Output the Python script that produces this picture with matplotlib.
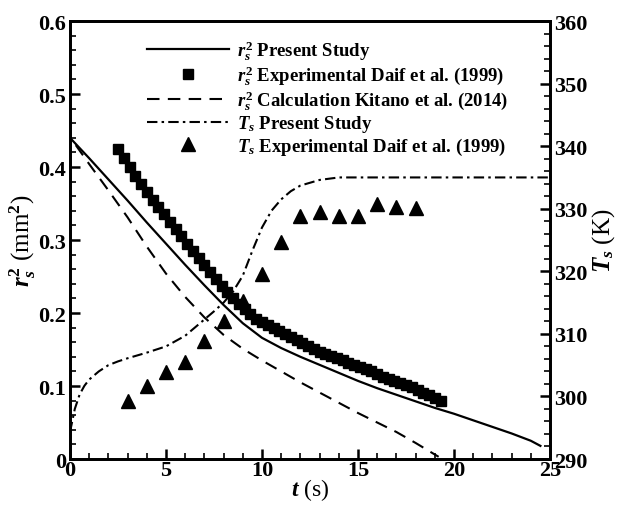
import matplotlib
matplotlib.use('Agg')
import matplotlib.pyplot as plt
from matplotlib.ticker import MultipleLocator

plt.rcParams['font.family'] = 'Liberation Serif'
plt.rcParams['font.weight'] = 'bold'
plt.rcParams['mathtext.fontset'] = 'custom'
plt.rcParams['mathtext.it'] = 'Liberation Serif:italic:bold'
plt.rcParams['mathtext.rm'] = 'Liberation Serif:bold'
plt.rcParams['mathtext.bf'] = 'Liberation Serif:bold'

# r_s^2 present study (solid)
t_present = [0, 1, 2, 3, 4, 5, 6, 7, 8, 9, 10, 11, 12, 13, 14, 15, 16, 17,
             18, 19, 20, 21, 22, 23, 24, 24.5]
r2_present = [0.44, 0.412, 0.383, 0.354, 0.324, 0.295, 0.266, 0.238, 0.211,
              0.186, 0.166, 0.152, 0.14, 0.129, 0.118, 0.107, 0.097, 0.088,
              0.079, 0.07, 0.062, 0.053, 0.044, 0.035, 0.025, 0.018]

# r_s^2 Kitano et al. (dashed)
t_kitano = [0.3, 1, 2, 3, 4, 5, 6, 7, 8, 9, 10, 11, 12, 13, 14, 15, 16, 17,
            18, 19.2]
r2_kitano = [0.43, 0.404, 0.368, 0.331, 0.291, 0.254, 0.222, 0.194, 0.17,
             0.151, 0.135, 0.12, 0.105, 0.091, 0.077, 0.063, 0.05, 0.037,
             0.022, 0.003]

# r_s^2 experiment Daif et al. (squares)
t_exp_r = [2.5, 2.8, 3.1, 3.4, 3.7, 4.0, 4.3, 4.6, 4.9, 5.2, 5.5, 5.8, 6.1,
           6.4, 6.7, 7.0, 7.3, 7.6, 7.9, 8.2, 8.5, 8.8, 9.1, 9.4, 9.7, 10.0,
           10.3, 10.6, 10.9, 11.2, 11.5, 11.8, 12.1, 12.4, 12.7, 13.0, 13.3,
           13.6, 13.9, 14.2, 14.5, 14.8, 15.1, 15.4, 15.7, 16.0, 16.3, 16.6,
           16.9, 17.2, 17.5, 17.8, 18.1, 18.4, 18.7, 19.0, 19.3]
r2_exp = [0.425, 0.412, 0.4, 0.388, 0.377, 0.366, 0.355, 0.345, 0.335, 0.325,
          0.315, 0.305, 0.295, 0.285, 0.276, 0.266, 0.256, 0.246, 0.237,
          0.229, 0.221, 0.213, 0.205, 0.198, 0.192, 0.187, 0.183, 0.179,
          0.175, 0.171, 0.167, 0.163, 0.159, 0.155, 0.151, 0.147, 0.144,
          0.141, 0.138, 0.135, 0.132, 0.129, 0.126, 0.123, 0.12, 0.117,
          0.113, 0.11, 0.107, 0.104, 0.101, 0.098, 0.094, 0.091, 0.087,
          0.083, 0.079]

# T_s present study (dash-dot)
t_temp = [0, 0.25, 0.5, 0.75, 1, 1.5, 2, 2.5, 3, 4, 5, 6, 6.5, 7, 7.5, 8,
          8.5, 9, 9.5, 10, 10.5, 11, 11.5, 12, 13, 14, 25]
T_present = [294.3, 298, 300.3, 301.7, 302.7, 304, 305, 305.6, 306.1, 307,
             308, 309.7, 311, 312.3, 313.6, 315, 316.8, 319.3, 323.3, 327,
             329.7, 331.5, 332.8, 333.7, 334.6, 335, 335]

# T_s experiment Daif et al. (triangles)
t_exp_T = [3, 4, 5, 6, 7, 8, 9, 10, 11, 12, 13, 14, 15, 16, 17, 18]
T_exp = [299.2, 301.6, 303.9, 305.5, 308.9, 312, 315.2, 319.6, 324.7, 328.8,
         329.5, 328.9, 328.9, 330.7, 330.3, 330.1]

fig = plt.figure(figsize=(6.2, 5.06), dpi=100)
ax = fig.add_axes([0.1129, 0.0909, 0.7742, 0.8656])
ax2 = ax.twinx()

l1, = ax.plot(t_present, r2_present, 'k-', lw=1.6)
l2, = ax.plot(t_exp_r, r2_exp, 'ks', ms=7, ls='none')
l3, = ax.plot(t_kitano, r2_kitano, 'k', lw=1.5, ls=(0, (6, 4)))
l4, = ax2.plot(t_temp, T_present, 'k', lw=1.5, ls=(0, (5, 2, 1.2, 2)))
l5, = ax2.plot(t_exp_T, T_exp, 'k^', ms=10, ls='none')

ax.set_xlim(0, 25)
ax.set_ylim(0, 0.6)
ax2.set_ylim(290, 360)

fs = 16
ax.xaxis.set_major_locator(MultipleLocator(5))
ax.xaxis.set_minor_locator(MultipleLocator(1))
ax.yaxis.set_major_locator(MultipleLocator(0.1))
ax.yaxis.set_minor_locator(MultipleLocator(0.02))
ax2.yaxis.set_major_locator(MultipleLocator(10))
ax2.yaxis.set_minor_locator(MultipleLocator(2))
ax.set_yticks([0, 0.1, 0.2, 0.3, 0.4, 0.5, 0.6])
ax.set_yticklabels(['0', '0.1', '0.2', '0.3', '0.4', '0.5', '0.6'])

for a in (ax, ax2):
    a.tick_params(which='major', direction='in', length=7, width=1.8,
                  labelsize=fs, pad=3)
    a.tick_params(which='minor', direction='in', length=4, width=1.2)
    for s in a.spines.values():
        s.set_linewidth(2)
ax.tick_params(axis='x', which='both', top=False, pad=1)
ax.tick_params(axis='y', which='both', right=False)

ax.set_xlabel(r'$t$ (s)', fontsize=17, labelpad=-3)
ax.set_ylabel(r'$r_s^2$ (mm$^2$)', fontsize=18, labelpad=0)
ax2.set_ylabel(r'$T_s$ (K)', fontsize=18, labelpad=2, rotation=90)

labels = [r'$r_s^2$ Present Study',
          r'$r_s^2$ Experimental Daif et al. (1999)',
          r'$r_s^2$ Calculation Kitano et al. (2014)',
          r'$T_s$ Present Study',
          r'$T_s$ Experimental Daif et al. (1999)']
leg = ax2.legend([l1, l2, l3, l4, l5], labels, loc='upper left',
                 bbox_to_anchor=(0.125, 1.0), frameon=False, fontsize=13.5,
                 handlelength=4.4, handletextpad=0.4, labelspacing=0.08)

fig.savefig('out.png', dpi=100)
